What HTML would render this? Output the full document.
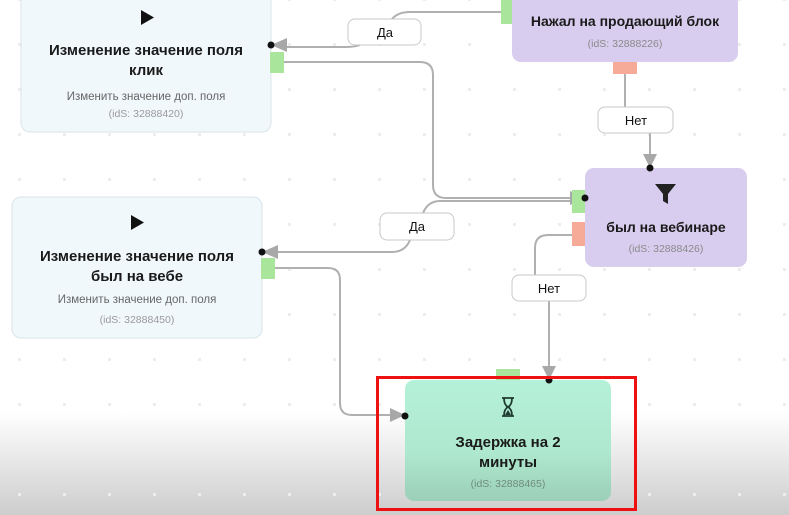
<!DOCTYPE html>
<html><head><meta charset="utf-8"><style>
html,body{margin:0;padding:0;width:789px;height:515px;overflow:hidden;background:#fff;}
svg{display:block;}
text{font-family:"Liberation Sans","DejaVu Sans",sans-serif;}
</style></head><body>
<svg width="789" height="515" viewBox="0 0 789 515" xmlns="http://www.w3.org/2000/svg">
<defs>
<linearGradient id="bg" x1="0" y1="0" x2="0" y2="1">
<stop offset="0" stop-color="#fff"/><stop offset="0.8" stop-color="#fff"/><stop offset="1" stop-color="#cdcdcd"/>
</linearGradient>
<linearGradient id="gn" x1="0" y1="0" x2="0" y2="1">
<stop offset="0" stop-color="#b5f0d9"/><stop offset="0.6" stop-color="#aee8cf"/><stop offset="1" stop-color="#9ccfb7"/>
</linearGradient>
<pattern id="dots" x="18" y="43" width="45" height="45" patternUnits="userSpaceOnUse">
<rect x="0" y="0" width="3" height="3" fill="#ededed"/>
</pattern>
</defs>
<rect width="789" height="515" fill="url(#bg)"/>
<rect width="789" height="515" fill="url(#dots)"/>

<g fill="none" stroke="#b0b0b0" stroke-width="2">
<path d="M501 12 H410 Q398 12 392 19"/>
<path d="M360 45 Q355 47 345 47 H285"/>
<path d="M284 62 H420 Q433 62 433 75 V185 Q433 198 446 198 H572"/>
<path d="M625 74 V107"/>
<path d="M650 133 V158"/>
<path d="M572 201 H440 Q428 201 423 213"/>
<path d="M410 240 Q405 252 392 252 H275"/>
<path d="M275 268 H328 Q340 268 340 280 V403 Q340 415 352 415 H393"/>
<path d="M572 235 H548 Q535 235 535 248 V275"/>
<path d="M549 301 V368"/>
</g>
<g fill="#a8a8a8">
<polygon points="271,45 287,38 287,52"/>
<polygon points="585,198 570,191 570,205"/>
<polygon points="650,168 643,154 657,154"/>
<polygon points="262,252 278,245 278,259"/>
<polygon points="405,415 390,408 390,422"/>
<polygon points="549,380 542,366 556,366"/>
</g>

<rect x="21" y="-10" width="250" height="142" rx="9" fill="#f1f8fc" stroke="#d8e4ea"/>
<polygon points="141,10 141,25 154,17.5" fill="#111"/>
<text x="146" y="55" font-size="15" font-weight="bold" fill="#1a1a1a" text-anchor="middle">Изменение значение поля</text>
<text x="146" y="75" font-size="15" font-weight="bold" fill="#1a1a1a" text-anchor="middle">клик</text>
<text x="146" y="100" font-size="11.5" fill="#666" text-anchor="middle">Изменить значение доп. поля</text>
<text x="146" y="117" font-size="10.5" fill="#9a9a9a" text-anchor="middle">(idS: 32888420)</text>
<rect x="270" y="52" width="14" height="21" fill="#a9e59a"/>
<circle cx="271" cy="45" r="3.5" fill="#111"/>

<rect x="12" y="197" width="250" height="141" rx="9" fill="#f1f8fc" stroke="#d8e4ea"/>
<polygon points="131,215 131,230 144,222.5" fill="#111"/>
<text x="137" y="261" font-size="15" font-weight="bold" fill="#1a1a1a" text-anchor="middle">Изменение значение поля</text>
<text x="137" y="281" font-size="15" font-weight="bold" fill="#1a1a1a" text-anchor="middle">был на вебе</text>
<text x="137" y="303" font-size="11.5" fill="#666" text-anchor="middle">Изменить значение доп. поля</text>
<text x="137" y="323" font-size="10.5" fill="#9a9a9a" text-anchor="middle">(idS: 32888450)</text>
<rect x="261" y="258" width="14" height="21" fill="#a9e59a"/>
<circle cx="262" cy="252" r="3.5" fill="#111"/>

<rect x="512" y="-12" width="226" height="74" rx="9" fill="#d8cdee"/>
<rect x="501" y="0" width="11" height="24" fill="#a9e59a"/>
<rect x="613" y="62" width="24" height="12" fill="#f5ab98"/>
<text x="625" y="26" font-size="14" font-weight="bold" fill="#1a1a1a" text-anchor="middle">Нажал на продающий блок</text>
<text x="625" y="47" font-size="10.5" fill="#8a8a8a" text-anchor="middle">(idS: 32888226)</text>

<rect x="585" y="168" width="162" height="99" rx="9" fill="#d8cdee"/>
<rect x="572" y="190" width="13" height="23" fill="#a9e59a"/>
<rect x="572" y="222" width="13" height="24" fill="#f5ab98"/>
<path d="M655 184 H676 L668 194 V204 L663 201 V194 Z" fill="#222"/>
<text x="666" y="232" font-size="14" font-weight="bold" fill="#1a1a1a" text-anchor="middle">был на вебинаре</text>
<text x="666" y="252" font-size="10.5" fill="#8a8a8a" text-anchor="middle">(idS: 32888426)</text>
<circle cx="585" cy="198" r="3.5" fill="#111"/>
<circle cx="650" cy="168" r="3.5" fill="#111"/>

<rect x="496" y="369" width="24" height="12" fill="#a9e59a"/>
<rect x="405" y="380" width="206" height="121" rx="9" fill="url(#gn)"/>
<g stroke="#1f3b30" stroke-width="1.8" fill="none">
<path d="M502 398 H514 M502 416 H514 M504 398 Q504 405 508 407 Q504 409 504 416 M512 398 Q512 405 508 407 Q512 409 512 416"/>
</g>
<path d="M505 415 L508 410 L511 415 Z" fill="#1f3b30"/>
<text x="508" y="447" font-size="15" font-weight="bold" fill="#1a1a1a" text-anchor="middle">Задержка на 2</text>
<text x="508" y="467" font-size="15" font-weight="bold" fill="#1a1a1a" text-anchor="middle">минуты</text>
<text x="508" y="487" font-size="10.5" fill="#6f8a7e" text-anchor="middle">(idS: 32888465)</text>
<circle cx="405" cy="416" r="3.5" fill="#111"/>
<circle cx="549" cy="380" r="3.5" fill="#111"/>
<rect x="377.5" y="377.5" width="258" height="132" fill="none" stroke="#ee1111" stroke-width="3"/>

<g fill="#fff" stroke="#c8c8c8" stroke-width="1">
<rect x="348" y="19" width="73" height="26" rx="7"/>
<rect x="598" y="107" width="75" height="26" rx="7"/>
<rect x="380" y="213" width="74" height="27" rx="7"/>
<rect x="512" y="275" width="74" height="26" rx="7"/>
</g>
<g font-size="13" fill="#111" text-anchor="middle" font-weight="500">
<text x="385" y="37">Да</text>
<text x="636" y="125">Нет</text>
<text x="417" y="231">Да</text>
<text x="549" y="293">Нет</text>
</g>
</svg>
</body></html>
